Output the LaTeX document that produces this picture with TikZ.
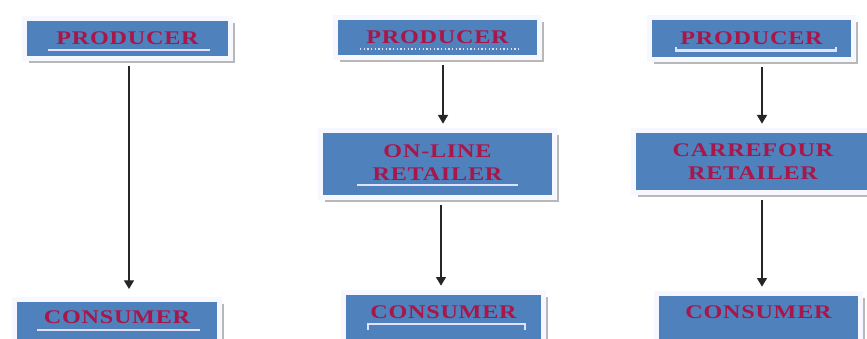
\documentclass[tikz,border=0pt]{standalone}
\usepackage{fontspec}
\newfontfamily\boxfont[FakeStretch=1.25, LetterSpace=4]{Liberation Serif}
\usepackage{xcolor}
\usetikzlibrary{arrows.meta, positioning, shadows}
\definecolor{boxblue}{RGB}{79,129,189}
\definecolor{labelred}{RGB}{168,22,74}

\begin{document}
\begin{tikzpicture}[
  x=0.3mm, y=-0.3mm,
  box/.style={fill=boxblue, draw=blue!3!white, line width=1.6mm, align=center,
    minimum width=#1, inner sep=2pt, text=labelred,
    font=\boxfont\bfseries\fontsize{16.5}{19.5}\selectfont,
    drop shadow={shadow xshift=1.4mm, shadow yshift=-1.4mm, fill=black!28, opacity=1}},
  raised/.style={text depth=#1},
  arr/.style={-{Triangle[width=3mm, length=2.6mm]}, line width=1.1pt, black!85,
    shorten <=1.5mm, shorten >=1.2mm},
  uline/.style={draw=white!88!blue, line width=0.7mm},
]
\useasboundingbox (0,0) rectangle (867,339);

% Left column: producer straight to consumer
\node[box=61.9mm, minimum height=12.1mm] (prodA) at (127.5,38.5) {PRODUCER};
\node[box=61.6mm, minimum height=13.6mm, raised=3mm] (consA) at (117,322) {CONSUMER};

% Middle column: through the on-line retailer
\node[box=61.3mm, minimum height=12.1mm] (prodB) at (437.5,37.5) {PRODUCER};
\node[box=70.3mm, minimum height=20.2mm, raised=1mm] (online) at (437.5,164) {ON-LINE\\RETAILER};
\node[box=60.1mm, minimum height=14.8mm, raised=3mm] (consB) at (443.5,317) {CONSUMER};

% Right column: through Carrefour
\node[box=61.3mm, minimum height=12.7mm] (prodC) at (751.5,38.5) {PRODUCER};
\node[box=71.8mm, minimum height=18.7mm] (carre) at (753,161.5) {CARREFOUR\\RETAILER};
\node[box=61.3mm, minimum height=14.8mm, raised=3.5mm] (consC) at (758.5,318) {CONSUMER};

% underlines under the labels
\draw[uline] ([shift={(-79.5,11.5)}]prodA.center) -- ([shift={(82.5,11.5)}]prodA.center);
\draw[uline, line width=0.4mm, dotted] ([shift={(-77.5,11.5)}]prodB.center) -- ([shift={(82.5,11.5)}]prodB.center);
\draw[uline] ([shift={(-75.5,9)}]prodC.center) -- ([shift={(-75.5,12)}]prodC.center)
  -- ([shift={(84.5,12)}]prodC.center) -- ([shift={(84.5,9)}]prodC.center);
\draw[uline] ([shift={(-80.5,21)}]online.center) -- ([shift={(80.5,21)}]online.center);
\draw[uline] ([shift={(-80,8)}]consA.center) -- ([shift={(83,8)}]consA.center);
\draw[uline] ([shift={(-75.5,13)}]consB.center) -- ([shift={(-75.5,7)}]consB.center)
  -- ([shift={(81.5,7)}]consB.center) -- ([shift={(81.5,13)}]consB.center);

% flows
\draw[arr, shorten >=2.3mm] ([xshift=0.45mm]prodA.south) -- ([xshift=0.45mm]prodA.south |- consA.north);
\draw[arr] ([xshift=1.65mm]prodB.south) -- ([xshift=1.65mm]prodB.south |- online.north);
\draw[arr] ([xshift=1.05mm]online.south) -- ([xshift=1.05mm]online.south |- consB.north);
\draw[arr] ([xshift=3.15mm]prodC.south) -- ([xshift=3.15mm]prodC.south |- carre.north);
\draw[arr] ([xshift=2.7mm]carre.south) -- ([xshift=2.7mm]carre.south |- consC.north);
\end{tikzpicture}
\end{document}
